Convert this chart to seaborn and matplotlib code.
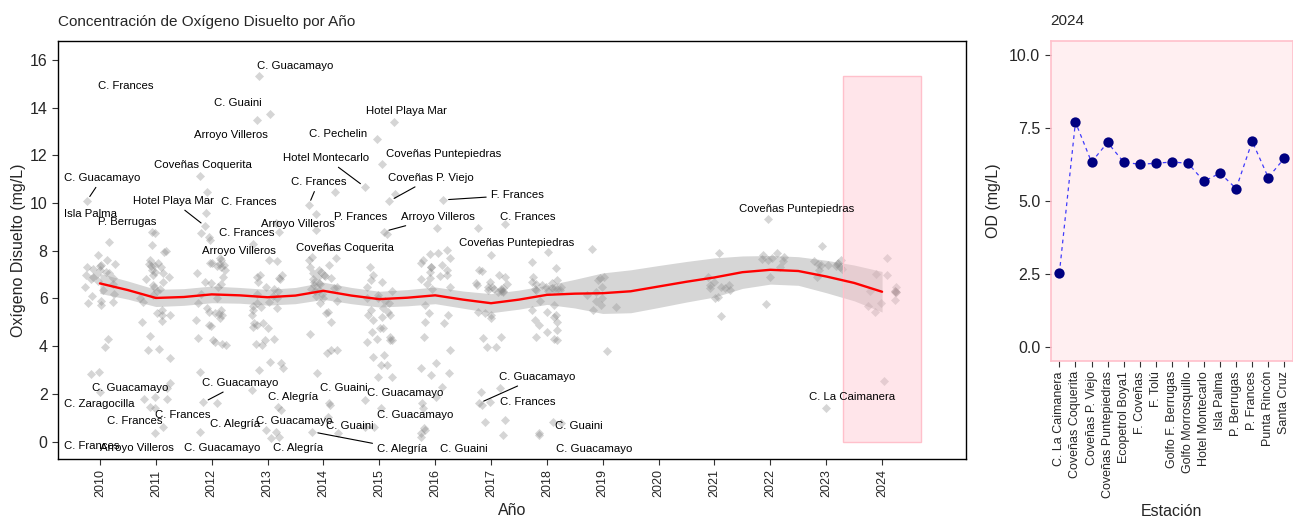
import numpy as np
import pandas as pd
import matplotlib
matplotlib.use("Agg")
import matplotlib.pyplot as plt
import seaborn as sns
from matplotlib.patches import Rectangle

sns.set_theme(style="ticks")
plt.rcParams["font.family"] = ["Liberation Sans", "DejaVu Sans"]

# Dissolved oxygen (mg/L) measured each year across all stations
od_2010 = [10.08, 8.36, 7.82, 7.6, 7.45, 7.4, 7.35, 7.3, 7.25, 7.2, 7.1, 7.05, 7.0, 6.98,
           6.9, 6.85, 6.8, 6.75, 6.6, 6.5, 6.35, 6.2, 6.1, 5.9, 5.85, 5.8, 5.72, 4.3, 3.97,
           2.9, 2.85, 2.07]
od_2011 = [8.8, 8.73, 8.24, 8.0, 7.95, 7.6, 7.5, 7.45, 7.4, 7.35, 7.3, 7.2, 7.1, 7.05, 7.0,
           6.9, 6.8, 6.7, 6.56, 6.5, 6.4, 6.3, 6.15, 6.0, 5.86, 5.5, 5.38, 5.3, 5.3, 5.06,
           5.02, 4.43, 3.9, 3.85, 3.49, 2.44, 2.24, 1.88, 1.8, 1.78, 1.46, 1.4, 0.62, 0.34]
od_2012 = [11.15, 10.46, 9.6, 9.02, 8.75, 8.57, 8.45, 7.68, 7.6, 7.5, 7.48, 7.45, 7.4, 7.35,
           7.3, 7.2, 7.05, 6.9, 6.7, 6.63, 6.6, 6.5, 6.2, 6.0, 5.8, 5.6, 5.5, 5.45, 5.4, 5.35,
           5.3, 5.2, 5.1, 4.88, 4.85, 4.33, 4.25, 4.18, 4.1, 4.04, 2.93, 1.64, 1.6, 0.41]
od_2013 = [15.34, 13.74, 13.47, 9.15, 8.8, 8.3, 7.6, 7.55, 7.0, 6.98, 6.9, 6.84, 6.8, 6.7,
           6.5, 6.4, 6.3, 6.2, 6.1, 6.0, 5.86, 5.8, 5.7, 5.65, 5.6, 5.5, 5.3, 4.95, 4.95,
           4.88, 4.81, 4.74, 4.28, 4.25, 4.1, 4.04, 3.35, 3.28, 3.07, 3.0, 2.16, 1.46, 1.32,
           0.48, 0.41, 0.2, 0.13]
od_2014 = [10.46, 9.9, 9.54, 8.86, 7.75, 7.7, 7.6, 7.4, 7.3, 7.2, 7.1, 7.05, 7.0, 6.95, 6.9,
           6.85, 6.8, 6.7, 6.65, 6.6, 6.55, 6.5, 6.45, 6.4, 6.35, 6.3, 6.2, 6.1, 6.0, 5.9,
           5.79, 5.44, 5.37, 5.02, 4.5, 3.83, 3.83, 3.7, 2.86, 1.6, 1.53, 1.04, 0.41, 0.34]
od_2015 = [13.4, 12.7, 11.64, 10.67, 10.38, 10.08, 8.8, 8.7, 7.33, 7.0, 6.77, 6.7, 6.5, 6.3,
           6.14, 6.0, 6.0, 5.9, 5.8, 5.6, 5.5, 5.44, 5.3, 5.3, 5.23, 5.1, 4.74, 4.74, 4.6,
           4.4, 4.3, 4.25, 4.25, 4.18, 3.63, 3.55, 3.2, 3.2, 2.72, 2.7, 1.74, 1.39, 0.62, 0.6]
od_2016 = [10.13, 8.95, 8.03, 7.9, 7.85, 7.68, 7.6, 7.5, 7.4, 7.33, 7.3, 7.2, 7.1, 7.0, 6.95,
           6.85, 6.8, 6.6, 6.5, 6.4, 5.72, 5.37, 5.3, 5.02, 4.95, 4.39, 3.83, 3.28, 3.07,
           2.86, 2.79, 2.3, 1.88, 1.6, 1.39, 0.55, 0.48, 0.34, 0.2]
od_2017 = [9.1, 8.95, 7.82, 7.19, 7.15, 6.98, 6.9, 6.7, 6.65, 6.6, 6.55, 6.5, 6.5, 6.45, 6.4,
           6.4, 6.35, 6.3, 6.3, 6.28, 6.25, 5.44, 5.37, 5.3, 5.16, 4.39, 4.35, 3.97, 3.95,
           2.23, 2.09, 1.67, 1.6, 1.55, 0.9, 0.83, 0.27]
od_2018 = [7.95, 7.54, 7.26, 6.9, 6.77, 6.7, 6.65, 6.6, 6.55, 6.5, 6.5, 6.45, 6.4, 6.4, 6.38,
           6.35, 6.35, 6.3, 5.9, 5.72, 5.5, 5.44, 5.3, 5.23, 5.1, 5.0, 4.88, 4.67, 4.6, 4.39,
           4.32, 4.25, 0.83, 0.76, 0.34, 0.27]
od_2019 = [8.06, 6.9, 6.84, 6.77, 6.5, 6.28, 6.14, 6.0, 5.9, 5.72, 5.65, 5.5, 3.8]
od_2021 = [7.89, 6.9, 6.7, 6.56, 6.55, 6.5, 6.45, 6.42, 6.35, 6.07, 6.0, 5.26]
od_2022 = [9.33, 7.89, 7.82, 7.75, 7.7, 7.65, 7.6, 7.55, 7.33, 6.88, 5.76]
od_2023 = [8.21, 7.61, 7.55, 7.5, 7.45, 7.45, 7.4, 7.4, 7.35, 7.3, 7.25, 7.2, 6.9, 1.39]

# 2024 campaign, one value per station
stations_2024 = ["C. La Caimanera", "Coveñas Coquerita", "Coveñas P. Viejo",
                 "Coveñas Puntepiedras", "Ecopetrol Boya1", "F. Coveñas", "F. Tolú",
                 "Golfo F. Berrugas", "Golfo Morrosquillo", "Hotel Montecarlo",
                 "Isla Palma", "P. Berrugas", "P. Frances", "Punta Rincón", "Santa Cruz"]
od_2024 = [2.52, 7.70, 6.33, 7.00, 6.33, 6.25, 6.29, 6.33, 6.29, 5.67, 5.95, 5.42,
           7.04, 5.80, 6.46]

years = [2010, 2011, 2012, 2013, 2014, 2015, 2016, 2017, 2018, 2019, 2021, 2022, 2023, 2024]
yearly = [od_2010, od_2011, od_2012, od_2013, od_2014, od_2015, od_2016, od_2017,
          od_2018, od_2019, od_2021, od_2022, od_2023, od_2024]

# Smoothed trend (loess) and its confidence half-width
trend_year = [2010, 2010.5, 2011, 2011.5, 2012, 2012.5, 2013, 2013.5, 2014, 2014.5, 2015,
              2015.5, 2016, 2016.5, 2017, 2017.5, 2018, 2018.5, 2019, 2019.5, 2020, 2020.5,
              2021, 2021.5, 2022, 2022.5, 2023, 2023.5, 2024]
trend_od = [6.63, 6.35, 6.02, 6.06, 6.17, 6.13, 6.05, 6.12, 6.32, 6.12, 5.97, 6.03, 6.13,
            5.95, 5.80, 5.95, 6.15, 6.20, 6.22, 6.30, 6.50, 6.70, 6.88, 7.10, 7.20, 7.15,
            6.92, 6.65, 6.28]
trend_se = [0.42, 0.38, 0.36, 0.35, 0.35, 0.33, 0.33, 0.34, 0.36, 0.34, 0.33, 0.34, 0.35,
            0.36, 0.40, 0.40, 0.40, 0.60, 0.85, 0.90, 0.88, 0.85, 0.82, 0.68, 0.60, 0.60,
            0.68, 0.75, 0.85]

# Labelled stations: station name, (year, value) of the measurement it refers to
label_station = ["C. Guacamayo", "C. Frances", "C. Guaini", "Arroyo Villeros",
                 "Coveñas Coquerita", "C. Guacamayo", "Isla Palma", "P. Berrugas",
                 "Hotel Playa Mar", "C. Frances", "C. Frances", "Arroyo Villeros",
                 "Arroyo Villeros", "C. Frances", "Coveñas Coquerita", "Hotel Playa Mar",
                 "C. Pechelin", "Hotel Montecarlo", "Coveñas Puntepiedras",
                 "Coveñas P. Viejo", "P. Frances", "Arroyo Villeros", "F. Frances",
                 "C. Frances", "Coveñas Puntepiedras", "Coveñas Puntepiedras",
                 "C. La Caimanera", "C. Guacamayo", "C. Zaragocilla", "C. Frances",
                 "C. Frances", "C. Guacamayo", "C. Alegría", "C. Alegría", "C. Guacamayo",
                 "C. Frances", "Arroyo Villeros", "C. Guacamayo", "C. Alegría", "C. Guaini",
                 "C. Guacamayo", "C. Guacamayo", "C. Guaini", "C. Alegría", "C. Guaini",
                 "C. Guacamayo", "C. Frances", "C. Guaini", "C. Guacamayo"]
label_point = [(2013, 15.34), None, None, None, None, (2010, 10.08), None, None,
               (2012, 9.02), None, None, None, None, (2014, 9.9), None, None,
               None, (2015, 10.67), None, (2015, 10.08), None, (2015, 8.8), (2016, 10.13),
               None, None, None, None, None, None, None, None, (2012, 1.64), None, None,
               None, None, None, None, None, None, None, None, None, (2014, 0.41), None,
               (2017, 1.6), None, None, None]
# where each label text sits (data coordinates)
label_xy = [(2013.49, 15.74), (2010.47, 14.90), (2012.46, 14.19), (2012.35, 12.85),
            (2011.85, 11.59), (2010.04, 11.05), (2009.83, 9.55), (2010.49, 9.20),
            (2011.31, 10.08), (2012.67, 10.04), (2012.63, 8.74), (2012.49, 7.98),
            (2013.54, 9.12), (2013.91, 10.88), (2014.39, 8.11), (2015.48, 13.85),
            (2014.27, 12.89), (2014.05, 11.88), (2016.15, 12.05), (2015.93, 11.05),
            (2014.66, 9.41), (2016.05, 9.41), (2017.47, 10.33), (2017.65, 9.41),
            (2017.46, 8.32), (2022.47, 9.74), (2023.47, 1.87), (2010.54, 2.24),
            (2009.98, 1.57), (2010.63, 0.86), (2011.48, 1.11), (2012.51, 2.45),
            (2013.46, 1.87), (2012.42, 0.73), (2013.48, 0.86), (2009.86, -0.19),
            (2010.67, -0.27), (2012.18, -0.27), (2013.54, -0.27), (2014.37, 2.24),
            (2015.47, 2.03), (2015.64, 1.11), (2014.47, 0.65), (2015.41, -0.31),
            (2016.51, -0.31), (2017.83, 2.70), (2017.65, 1.66), (2018.57, 0.65),
            (2018.84, -0.31)]
linked = [False, False, False, False, False, True, False, False, True, False, False, False,
          False, True, False, False, False, True, False, True, False, True, True, False,
          False, False, False, False, False, False, False, True, False, False, False, False,
          False, False, False, False, False, False, False, True, False, True, False, False,
          False]

df = pd.DataFrame({
    "Año": np.repeat(years, [len(v) for v in yearly]),
    "OD": np.concatenate(yearly),
})
trend = pd.DataFrame({"Año": trend_year, "OD": trend_od, "se": trend_se})

fig = plt.figure(figsize=(12.93, 5.19), dpi=100)
ax = fig.add_axes([0.0449, 0.1156, 0.7021, 0.8054])
ax2 = fig.add_axes([0.8126, 0.305, 0.1874, 0.6166])

# ---- left panel: all years ----
np.random.seed(7)
sns.stripplot(data=df, x="Año", y="OD", native_scale=True, jitter=0.28, marker="D",
              size=4.6, color="grey", alpha=0.33, linewidth=0, ax=ax, zorder=2)
offsets = np.vstack([c.get_offsets() for c in ax.collections])

ax.fill_between(trend["Año"], trend["OD"] - trend["se"], trend["OD"] + trend["se"],
                color="#999999", alpha=0.4, linewidth=0, zorder=3)
sns.lineplot(data=trend, x="Año", y="OD", color="red", linewidth=1.7, ax=ax, zorder=6)

hl_x0, hl_x1 = 2023.3, 2024.7
ax.add_patch(Rectangle((hl_x0, 0), hl_x1 - hl_x0, df["OD"].max(), facecolor="#ffc0cb",
                       alpha=0.4, edgecolor="none", zorder=5))
ax.add_patch(Rectangle((hl_x0, 0), hl_x1 - hl_x0, df["OD"].max(), facecolor="none",
                       edgecolor="#ffc0cb", linewidth=1.0, zorder=5))

for name, pt, (tx, ty), seg in zip(label_station, label_point, label_xy, linked):
    if seg and pt is not None:
        yr, val = pt
        cand = np.where(np.abs(offsets[:, 0] - yr) < 0.45)[0]
        k = cand[np.argmin(np.abs(offsets[cand, 1] - val))]
        px, py = offsets[k]
        ax.annotate(name, xy=(px, py), xytext=(tx, ty), ha="center", va="center",
                    fontsize=8.2, color="black", zorder=7,
                    arrowprops=dict(arrowstyle="-", color="black", lw=0.8,
                                    shrinkA=1, shrinkB=4))
    else:
        ax.text(tx, ty, name, ha="center", va="center", fontsize=8.2, color="black",
                zorder=7)

ax.set_xlim(2009.25, 2025.5)
ax.set_ylim(-0.73, 16.79)
ax.set_xticks(range(2010, 2025))
ax.set_xticklabels([str(y) for y in range(2010, 2025)], rotation=90, fontsize=9)
ax.set_yticks(range(0, 17, 2))
ax.tick_params(axis="y", labelsize=11.5, length=4, width=0.8, color="#333333")
ax.tick_params(axis="x", length=4, width=0.8, color="#333333")
ax.set_xlabel("Año", fontsize=11.5, labelpad=4)
ax.set_ylabel("Oxígeno Disuelto (mg/L)", fontsize=11.5, labelpad=3)
ax.set_title("Concentración de Oxígeno Disuelto por Año", loc="left", fontsize=11,
             pad=11)
for s in ax.spines.values():
    s.set_visible(True)
    s.set_color("black")
    s.set_linewidth(1.0)

# ---- right panel: stations in 2024 ----
st = pd.DataFrame({"pos": np.arange(len(stations_2024)), "OD": od_2024})
ax2.set_facecolor((1.0, 0.753, 0.796, 0.25))
sns.lineplot(data=st, x="pos", y="OD", color="blue", alpha=0.75, linewidth=0.9,
             linestyle=(0, (3, 3)), ax=ax2)
sns.scatterplot(data=st, x="pos", y="OD", color="navy", s=55, linewidth=0, ax=ax2,
                zorder=3)
ax2.set_xlim(-0.54, 14.54)
ax2.set_ylim(-0.48, 10.49)
ax2.set_xticks(st["pos"])
ax2.set_xticklabels(stations_2024, rotation=90, fontsize=9)
ax2.set_yticks([0, 2.5, 5, 7.5, 10])
ax2.set_yticklabels(["0.0", "2.5", "5.0", "7.5", "10.0"])
ax2.tick_params(axis="y", labelsize=11.5, length=4, width=0.8, color="#333333")
ax2.tick_params(axis="x", length=4, width=0.8, color="#333333")
ax2.set_xlabel("Estación", fontsize=11.5, labelpad=4)
ax2.set_ylabel("OD (mg/L)", fontsize=11.5, labelpad=6)
ax2.set_title("2024", loc="left", fontsize=11, pad=11)
for s in ax2.spines.values():
    s.set_visible(True)
    s.set_color("#ffc0cb")
    s.set_linewidth(1.2)

fig.savefig("out.png", dpi=100)
